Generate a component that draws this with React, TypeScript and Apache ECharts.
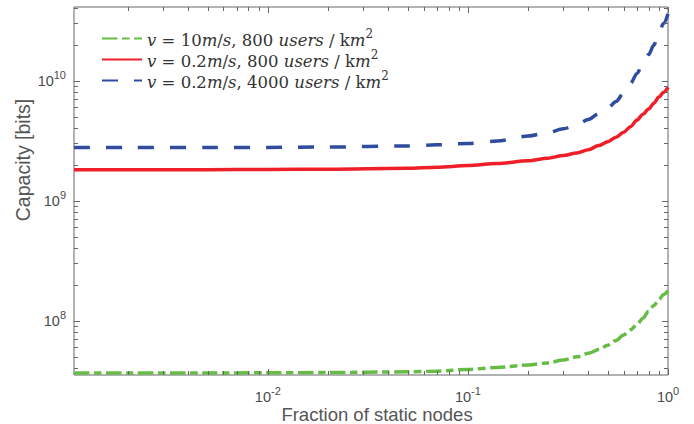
import React, { useEffect, useRef } from 'react';
import * as echarts from 'echarts';

// ---- data ----
const fraction = [0.001075, 0.002, 0.005, 0.01, 0.02, 0.05, 0.07, 0.1, 0.14, 0.2, 0.25, 0.3, 0.35, 0.4, 0.45, 0.5, 0.55, 0.6, 0.65, 0.7, 0.75, 0.8, 0.85, 0.9, 0.95, 1.0];
const capV10U800 = [3.66e7, 3.66e7, 3.67e7, 3.68e7, 3.7e7, 3.75e7, 3.8e7, 3.93e7, 4.08e7, 4.28e7, 4.45e7, 4.7e7, 5.0e7, 5.35e7, 5.75e7, 6.25e7, 6.85e7, 7.6e7, 8.4e7, 9.3e7, 1.05e8, 1.2e8, 1.34e8, 1.5e8, 1.65e8, 1.78e8];
const capV02U800 = [1.81e9, 1.81e9, 1.815e9, 1.82e9, 1.83e9, 1.86e9, 1.9e9, 1.96e9, 2.04e9, 2.15e9, 2.26e9, 2.38e9, 2.5e9, 2.66e9, 2.88e9, 3.1e9, 3.38e9, 3.72e9, 4.14e9, 4.7e9, 5.25e9, 5.8e9, 6.5e9, 7.3e9, 8.0e9, 8.8e9];
const capV02U4000 = [2.77e9, 2.77e9, 2.78e9, 2.78e9, 2.8e9, 2.86e9, 2.92e9, 3.0e9, 3.14e9, 3.46e9, 3.68e9, 3.97e9, 4.3e9, 4.75e9, 5.3e9, 5.9e9, 6.7e9, 7.9e9, 9.5e9, 1.15e10, 1.4e10, 1.65e10, 1.98e10, 2.5e10, 3.0e10, 3.6e10];

const seriesNames = [
  'v = 10m/s, 800 users / km2',
  'v = 0.2m/s, 800 users / km2',
  'v = 0.2m/s, 4000 users / km2',
];
const legendRich = [
  '{i|v}{r| = 10}{i|m}{r|/}{i|s}{r|, 800 }{i|users}{r| / k}{i|m}{p|2}',
  '{i|v}{r| = 0.2}{i|m}{r|/}{i|s}{r|, 800 }{i|users}{r| / k}{i|m}{p|2}',
  '{i|v}{r| = 0.2}{i|m}{r|/}{i|s}{r|, 4000 }{i|users}{r| / k}{i|m}{p|2}',
];
const seriesColors = ['#66bd45', '#ee1f28', '#2f4c9f'];
const seriesDash = [[15.5, 4.5, 7.5, 4.5], 'solid', [16, 16]];

const X_MIN = 0.001075;
const X_MAX = 1;
const Y_MIN = 3.53e7;
const Y_MAX = 4.11e10;
const xDecades = [-3, -2, -1, 0];
const yDecades = [7, 8, 9, 10];
const mantissas = [1, 2, 3, 4, 5, 6, 7, 8, 9];

const xTicks: number[][] = [];
xDecades.forEach((d) => mantissas.forEach((m) => {
  const v = m * Math.pow(10, d);
  if (v >= X_MIN * 1.0001 && v <= X_MAX * 1.0001) xTicks.push([v, Y_MIN, 0, m === 1 ? 1 : 0]);
}));
const yTicks: number[][] = [];
yDecades.forEach((d) => mantissas.forEach((m) => {
  const v = m * Math.pow(10, d);
  if (v >= Y_MIN * 1.0001 && v <= Y_MAX * 0.9999) yTicks.push([X_MIN, v, 1, m === 1 ? 1 : 0]);
}));

const SANS = "'Liberation Sans', Arial, Helvetica, sans-serif";
const SERIF = "'DejaVu Serif', 'Liberation Serif', serif";
const LABEL_COLOR = '#4a4a4a';
const AXIS_COLOR = '#666666';
const TEXT_COLOR = '#333333';

const powLabel = (v: number) => {
  const e = Math.log10(v);
  const r = Math.round(e);
  if (Math.abs(e - r) > 1e-6) return '';
  return `{b|10}{s|${r}}`;
};
const powRich = {
  b: { fontSize: 14.5, lineHeight: 19, verticalAlign: 'bottom', color: LABEL_COLOR, fontFamily: SANS },
  s: { fontSize: 11, lineHeight: 12, verticalAlign: 'top', color: LABEL_COLOR, fontFamily: SANS },
};

export default function App() {
  const ref = useRef<HTMLDivElement>(null);
  useEffect(() => {
    document.body.style.margin = '0';
    const chart = echarts.init(ref.current!, null, { renderer: 'svg' });
    const option: any = {
      animation: false,
      backgroundColor: '#ffffff',
      grid: {
        left: 74, right: 26, top: 7, bottom: 49,
        show: true, borderColor: AXIS_COLOR, borderWidth: 1,
        outerBoundsMode: 'none',
      },
      legend: {
        orient: 'vertical',
        left: 101,
        top: 28,
        padding: 0,
        itemGap: 0,
        itemWidth: 40,
        itemHeight: 14,
        data: seriesNames,
        itemStyle: { opacity: 0, borderWidth: 0, color: 'rgba(0,0,0,0)' },
        formatter: (name: string) => legendRich[seriesNames.indexOf(name)],
        textStyle: {
          color: TEXT_COLOR,
          rich: {
            i: { fontFamily: SERIF, fontStyle: 'italic', fontSize: 16.5, lineHeight: 21, verticalAlign: 'bottom', color: TEXT_COLOR },
            r: { fontFamily: SERIF, fontSize: 16.5, lineHeight: 21, verticalAlign: 'bottom', color: TEXT_COLOR },
            p: { fontFamily: SERIF, fontSize: 12, lineHeight: 12, verticalAlign: 'top', color: TEXT_COLOR },
          },
        },
      },
      xAxis: {
        type: 'log',
        logBase: 10,
        min: X_MIN,
        max: X_MAX,
        axisLine: { show: false },
        axisTick: { show: false },
        splitLine: { show: false },
        axisLabel: { formatter: powLabel, rich: powRich, margin: 10, showMinLabel: true, showMaxLabel: true },
        name: 'Fraction of static nodes',
        nameLocation: 'middle',
        nameGap: 29.5,
        nameMoveOverlap: false,
        nameTextStyle: { fontFamily: SANS, fontSize: 18.5, color: '#555555', padding: [0, 0, 0, 12] },
      },
      yAxis: {
        type: 'log',
        logBase: 10,
        min: Y_MIN,
        max: Y_MAX,
        axisLine: { show: false },
        axisTick: { show: false },
        splitLine: { show: false },
        axisLabel: { formatter: powLabel, rich: powRich, margin: 8, padding: [0, 0, 3, 0] },
      },
      graphic: [
        {
          type: 'text',
          x: 23,
          y: 160,
          rotation: Math.PI / 2,
          style: {
            text: 'Capacity [bits]',
            fontFamily: SANS,
            fontSize: 19.5,
            fill: '#555555',
            textAlign: 'center',
            textVerticalAlign: 'middle',
          },
        },
      ],
      series: [
        ...[capV10U800, capV02U800, capV02U4000].map((cap, k) => ({
          name: seriesNames[k],
          type: 'line',
          data: fraction.map((x, i) => [x, cap[i]]),
          symbol: 'none',
          smooth: 0.3,
          smoothMonotone: 'x',
          lineStyle: { color: seriesColors[k], width: 3.5, type: seriesDash[k] },
          itemStyle: { color: seriesColors[k] },
          z: 3 + k,
        })),
        {
          type: 'custom',
          silent: true,
          z: 10,
          data: [...xTicks, ...yTicks],
          encode: { x: 0, y: 1 },
          renderItem: (params: any, api: any) => {
            const cs = params.coordSys;
            const kind = api.value(2);
            const len = api.value(3) === 1 ? 6 : 4;
            const style = { stroke: AXIS_COLOR, lineWidth: 1 };
            if (kind === 0) {
              const p = api.coord([api.value(0), Y_MIN]);
              const x = Math.round(p[0]) + 0.5;
              const b = cs.y + cs.height;
              return {
                type: 'group',
                children: [
                  { type: 'line', shape: { x1: x, y1: b, x2: x, y2: b - len }, style },
                  { type: 'line', shape: { x1: x, y1: cs.y, x2: x, y2: cs.y + len }, style },
                ],
              };
            }
            const p = api.coord([X_MIN, api.value(1)]);
            const y = Math.round(p[1]) + 0.5;
            const r = cs.x + cs.width;
            return {
              type: 'group',
              children: [
                { type: 'line', shape: { x1: cs.x, y1: y, x2: cs.x + len, y2: y }, style },
                { type: 'line', shape: { x1: r, y1: y, x2: r - len, y2: y }, style },
              ],
            };
          },
        },
      ],
    };
    chart.setOption(option);
    return () => chart.dispose();
  }, []);
  return <div ref={ref} style={{ width: 694, height: 424 }} />;
}
